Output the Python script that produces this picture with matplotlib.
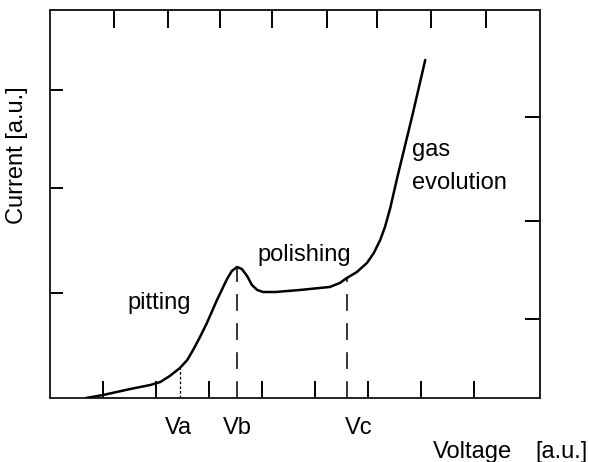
import numpy as np
import matplotlib
matplotlib.use('Agg')
import matplotlib.pyplot as plt

plt.rcParams['font.family'] = ['Liberation Sans', 'DejaVu Sans']

# polarisation curve (arbitrary units)
voltage = [0.68, 1.0, 1.51, 1.89, 2.08, 2.26, 2.45, 2.59, 2.70, 2.83, 2.96, 3.15, 3.34,
           3.43, 3.53, 3.62, 3.72, 3.81, 3.91, 4.02, 4.25, 4.72, 5.28, 5.47, 5.60,
           5.79, 5.98, 6.11, 6.23, 6.32, 6.42, 6.55, 6.83, 7.08]
current = [0.0, 0.029, 0.087, 0.126, 0.155, 0.214, 0.291, 0.369, 0.466, 0.592, 0.728, 0.951, 1.155,
           1.233, 1.272, 1.252, 1.184, 1.097, 1.049, 1.029, 1.029, 1.049, 1.078, 1.117, 1.165,
           1.223, 1.311, 1.408, 1.534, 1.660, 1.845, 2.136, 2.728, 3.282]

marker_names = ['Va', 'Vb', 'Vc']
marker_v = [2.45, 3.53, 5.6]

bottom_ticks = [1, 2, 3, 4, 5, 6, 7, 8]
top_ticks = [1.21, 2.23, 3.21, 4.19, 5.23, 6.17, 7.19, 8.23]
left_ticks = [1.02, 2.04, 2.99]
right_ticks = [0.77, 1.72, 2.73]

fig = plt.figure(figsize=(5.89, 4.62), dpi=100)
ax = fig.add_axes([50 / 589, 1 - 398 / 462, 490 / 589, 388 / 462])
ax.set_xlim(0, 490 / 53)
ax.set_ylim(0, 388 / 103)

ax.plot(voltage, current, color='black', linewidth=1.8, solid_joinstyle='round',
        solid_capstyle='round', zorder=3)

marker_i = np.interp(marker_v, voltage, current)
styles = [(0, (2.2, 1.6)), (0, (11, 8)), (0, (11, 8))]
widths = [0.9, 1.1, 1.1]
for v, i, ls, lw in zip(marker_v, marker_i, styles, widths):
    ax.plot([v, v], [0, i], color='black', linestyle=ls, linewidth=lw)

fs = 17
label_dx = [-0.02, 0.0, 0.22]
for name, v, dx in zip(marker_names, marker_v, label_dx):
    ax.text(v + dx, -0.29, name, ha='center', va='center', fontsize=fs, clip_on=False)

ax.text(7.23, -0.52, 'Voltage', ha='left', va='center', fontsize=fs, clip_on=False)
ax.text(9.15, -0.52, '[a.u.]', ha='left', va='center', fontsize=fs, clip_on=False)
fig.text(17 / 589, 1 - 155 / 462, 'Current [a.u.]', rotation=90, ha='center', va='center',
         fontsize=fs)

ax.text(1.46, 0.92, 'pitting', ha='left', va='center', fontsize=fs)
ax.text(3.91, 1.39, 'polishing', ha='left', va='center', fontsize=fs)
ax.text(6.83, 2.41, 'gas', ha='left', va='center', fontsize=fs)
ax.text(6.83, 2.09, 'evolution', ha='left', va='center', fontsize=fs)

for s in ax.spines.values():
    s.set_linewidth(1.4)
    s.set_color('#222222')

ax.set_xticks(bottom_ticks)
ax.set_yticks(left_ticks)
ax.tick_params(axis='x', direction='in', length=12, width=1.4, labelbottom=False)
ax.tick_params(axis='y', direction='in', length=9.5, width=1.4, labelleft=False)

top = ax.secondary_xaxis('top')
top.set_xticks(top_ticks)
top.tick_params(direction='in', length=13, width=1.4, labeltop=False)
top.spines['top'].set_linewidth(1.4)

right = ax.secondary_yaxis('right')
right.set_yticks(right_ticks)
right.tick_params(direction='in', length=10.5, width=1.4, labelright=False)
right.spines['right'].set_linewidth(1.4)

fig.savefig('out.png', dpi=100)
